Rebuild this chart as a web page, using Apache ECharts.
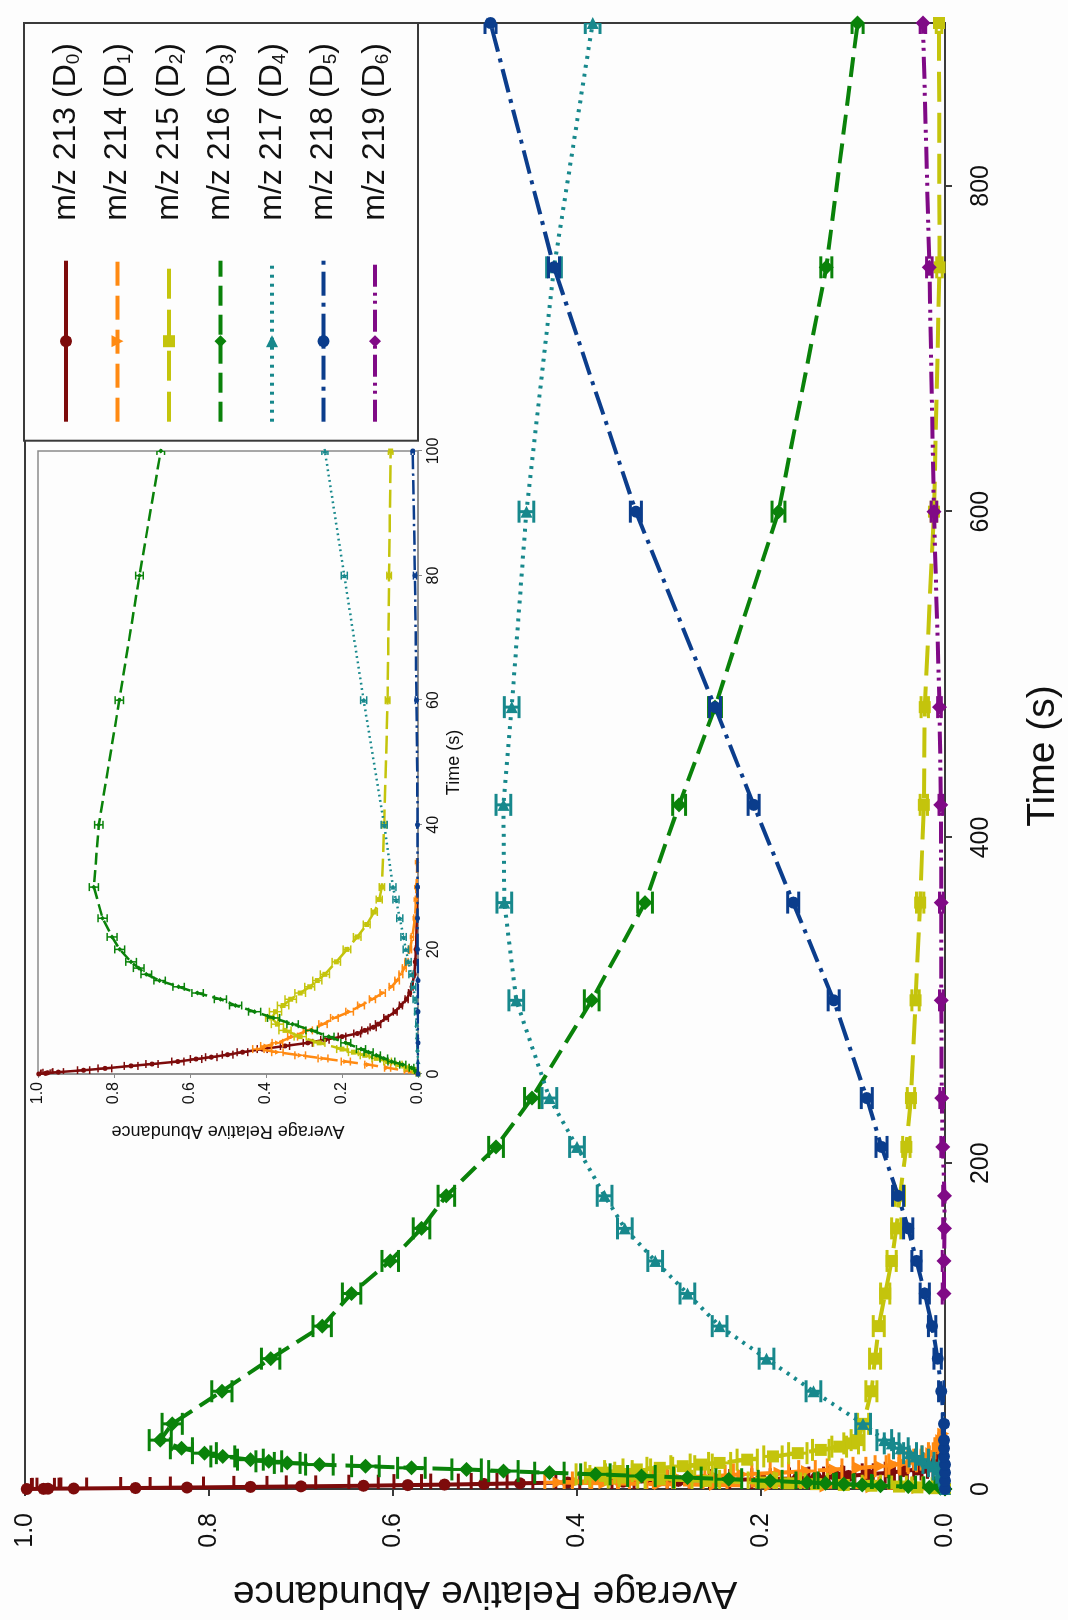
<!DOCTYPE html>
<html>
<head>
<meta charset="utf-8">
<script src="https://cdn.jsdelivr.net/npm/echarts@6/dist/echarts.min.js"></script>
<style>
  html, body { margin: 0; padding: 0; background: #fdfdfd; width: 1068px; height: 1620px; overflow: hidden; }
  /* the figure is laid out landscape and turned a quarter turn counter-clockwise onto the portrait page */
  #chart {
    position: absolute; left: 0; top: 0;
    width: 1620px; height: 1068px;
    transform-origin: 0 0;
    transform: translateY(1620px) rotate(-90deg);
    background: #fdfdfd;
  }
</style>
</head>
<body>
<div id="chart"></div>
<script>
// ---- data: time (s), average relative abundance, standard error ----
const tD0 = [0, 0.1, 0.2, 0.3, 0.6, 0.9, 1.3, 1.6, 2.0, 2.4, 2.7, 3.1, 3.5, 4.0, 4.5, 5.0, 5.5, 6.0, 6.5, 7.0, 7.5, 8.0, 9.0, 10, 11, 12, 13, 14, 16, 18, 20, 25, 30];
const vD0 = [0.998, 0.98, 0.975, 0.947, 0.88, 0.824, 0.755, 0.70, 0.632, 0.584, 0.544, 0.501, 0.462, 0.41, 0.35, 0.29, 0.245, 0.20, 0.16, 0.14, 0.118, 0.105, 0.084, 0.06, 0.045, 0.03, 0.022, 0.016, 0.01, 0.007, 0.005, 0.003, 0.002];
const eD0 = [0.005, 0.012, 0.012, 0.014, 0.016, 0.018, 0.018, 0.016, 0.016, 0.015, 0.015, 0.014, 0.014, 0.013, 0.012, 0.012, 0.011, 0.010, 0.009, 0.008, 0.008, 0.007, 0.006, 0.005, 0.004, 0.004, 0.003, 0.003, 0.002, 0.002, 0.002, 0.001, 0.001];

const tD1 = [0, 0.5, 1.0, 1.5, 2.0, 2.5, 3.0, 3.5, 4.0, 4.5, 5.0, 6.0, 7.0, 8.0, 9.0, 10, 11, 12, 13, 14, 15, 16, 17, 18, 20, 22, 25, 28, 30, 34];
const vD1 = [0.0, 0.03, 0.08, 0.13, 0.19, 0.25, 0.31, 0.37, 0.42, 0.40, 0.37, 0.33, 0.29, 0.25, 0.22, 0.18, 0.15, 0.12, 0.093, 0.07, 0.055, 0.045, 0.036, 0.03, 0.021, 0.015, 0.008, 0.005, 0.004, 0.002];
const eD1 = [0.002, 0.006, 0.008, 0.010, 0.012, 0.013, 0.014, 0.015, 0.015, 0.014, 0.014, 0.013, 0.012, 0.011, 0.010, 0.010, 0.009, 0.008, 0.007, 0.006, 0.006, 0.005, 0.005, 0.004, 0.004, 0.003, 0.003, 0.002, 0.002, 0.002];

const tD2 = [0, 0.5, 1, 1.5, 2, 2.5, 3, 3.5, 4, 5, 6, 7, 8, 9, 10, 11, 12, 13, 14, 15, 16, 18, 20, 22, 24, 26, 28, 30, 40, 60, 80, 100, 120, 140, 160, 180, 210, 240, 300, 360, 420, 480, 600, 750, 900];
const vD2 = [0, 0.01, 0.03, 0.05, 0.08, 0.11, 0.14, 0.17, 0.2, 0.26, 0.31, 0.35, 0.37, 0.385, 0.375, 0.355, 0.335, 0.31, 0.285, 0.265, 0.245, 0.215, 0.187, 0.16, 0.135, 0.115, 0.102, 0.095, 0.089, 0.080, 0.076, 0.072, 0.065, 0.058, 0.053, 0.049, 0.042, 0.037, 0.032, 0.027, 0.023, 0.022, 0.012, 0.006, 0.0065];
const eD2 = [0.002, 0.004, 0.006, 0.008, 0.010, 0.011, 0.012, 0.013, 0.014, 0.015, 0.016, 0.016, 0.016, 0.016, 0.016, 0.015, 0.015, 0.014, 0.013, 0.012, 0.012, 0.011, 0.010, 0.010, 0.009, 0.008, 0.008, 0.007, 0.006, 0.006, 0.006, 0.006, 0.005, 0.005, 0.005, 0.005, 0.004, 0.004, 0.004, 0.004, 0.004, 0.004, 0.003, 0.003, 0.003];

const tD3 = [0, 0.5, 1, 1.5, 2, 2.5, 3, 3.5, 4, 5, 6, 7, 8, 9, 10, 11, 12, 13, 14, 15, 16, 17, 18, 20, 22, 25, 30, 40, 60, 80, 100, 120, 140, 160, 180, 210, 240, 300, 360, 420, 480, 600, 750, 900];
const vD3 = [0, 0.005, 0.017, 0.04, 0.07, 0.09, 0.11, 0.13, 0.15, 0.19, 0.235, 0.28, 0.33, 0.38, 0.43, 0.48, 0.52, 0.58, 0.63, 0.68, 0.715, 0.735, 0.755, 0.785, 0.805, 0.83, 0.853, 0.84, 0.786, 0.733, 0.677, 0.645, 0.603, 0.569, 0.542, 0.488, 0.449, 0.384, 0.326, 0.289, 0.250, 0.181, 0.129, 0.095];
const eD3 = [0.002, 0.004, 0.006, 0.008, 0.009, 0.010, 0.011, 0.012, 0.012, 0.013, 0.014, 0.015, 0.015, 0.016, 0.016, 0.016, 0.016, 0.015, 0.015, 0.015, 0.014, 0.014, 0.014, 0.013, 0.013, 0.012, 0.012, 0.011, 0.011, 0.010, 0.010, 0.010, 0.009, 0.009, 0.009, 0.008, 0.008, 0.008, 0.008, 0.007, 0.007, 0.007, 0.006, 0.006];

const tD4 = [0, 2, 4, 6, 8, 10, 12, 14, 16, 18, 20, 22, 25, 28, 30, 40, 60, 80, 100, 120, 140, 160, 180, 210, 240, 300, 360, 420, 480, 600, 750, 900];
const vD4 = [0, 0, 0.001, 0.002, 0.003, 0.005, 0.008, 0.012, 0.018, 0.025, 0.032, 0.038, 0.048, 0.058, 0.066, 0.089, 0.143, 0.194, 0.245, 0.28, 0.315, 0.348, 0.37, 0.40, 0.43, 0.466, 0.479, 0.48, 0.471, 0.455, 0.425, 0.383];
const eD4 = [0.001, 0.001, 0.002, 0.002, 0.003, 0.004, 0.005, 0.006, 0.006, 0.007, 0.007, 0.007, 0.008, 0.008, 0.008, 0.008, 0.008, 0.008, 0.008, 0.008, 0.008, 0.008, 0.008, 0.008, 0.008, 0.008, 0.008, 0.008, 0.008, 0.008, 0.008, 0.008];

const tD5 = [0, 5, 10, 15, 20, 25, 30, 40, 60, 80, 100, 120, 140, 160, 180, 210, 240, 300, 360, 420, 480, 600, 750, 900];
const vD5 = [0, 0, 0, 0, 0.001, 0.001, 0.001, 0.001, 0.004, 0.008, 0.014, 0.022, 0.031, 0.040, 0.051, 0.069, 0.085, 0.121, 0.165, 0.208, 0.25, 0.336, 0.425, 0.494];
const eD5 = [0.001, 0.001, 0.001, 0.001, 0.001, 0.001, 0.001, 0.002, 0.003, 0.004, 0.004, 0.005, 0.005, 0.005, 0.006, 0.006, 0.006, 0.006, 0.006, 0.006, 0.006, 0.006, 0.006, 0.006];

const tD6 = [120, 140, 160, 180, 210, 240, 300, 360, 420, 480, 600, 750, 900];
const vD6 = [0.001, 0.001, 0.0005, 0.0005, 0.0025, 0.0036, 0.004, 0.004, 0.0045, 0.006, 0.012, 0.017, 0.024];
const eD6 = [0.002, 0.002, 0.002, 0.002, 0.002, 0.002, 0.002, 0.002, 0.002, 0.002, 0.003, 0.003, 0.003];

const seriesNames = ['m/z 213 (D0)', 'm/z 214 (D1)', 'm/z 215 (D2)', 'm/z 216 (D3)', 'm/z 217 (D4)', 'm/z 218 (D5)', 'm/z 219 (D6)'];

const timeTicks = [0, 200, 400, 600, 800];
const abundanceTicks = [0, 0.2, 0.4, 0.6, 0.8, 1.0];
const insetTimeTicks = [0, 20, 40, 60, 80, 100];

// ---- appearance of each isotopologue trace ----
const looks = [
  { color: '#7d0b0b', dash: 'solid',              symbol: 'circle',   rot: 0 },
  { color: '#ff8a12', dash: [24, 10],             symbol: 'triangle', rot: 180 },
  { color: '#c4c40c', dash: [30, 11],             symbol: 'rect',     rot: 0 },
  { color: '#0a820a', dash: [20, 9],              symbol: 'diamond',  rot: 0 },
  { color: '#17888c', dash: [3, 6],               symbol: 'triangle', rot: -90 },
  { color: '#0b3d8c', dash: [24, 7, 4, 7],        symbol: 'circle',   rot: 0 },
  { color: '#800a86', dash: [22, 6, 3, 5, 3, 6],  symbol: 'diamond',  rot: 0 }
];
const traces = [
  [tD0, vD0, eD0], [tD1, vD1, eD1], [tD2, vD2, eD2], [tD3, vD3, eD3],
  [tD4, vD4, eD4], [tD5, vD5, eD5], [tD6, vD6, eD6]
];

const FONT = '"Liberation Sans", Arial, Helvetica, sans-serif';

function errorBars(axis, rows, color, capHalf, width, z) {
  return {
    type: 'custom', xAxisIndex: axis, yAxisIndex: axis, data: rows, clip: true,
    silent: true, z: z, encode: { x: 0, y: 1 },
    renderItem: function (params, api) {
      const t = api.value(0), v = api.value(1), e = api.value(2);
      const lo = api.coord([t, v - e]);
      const hi = api.coord([t, v + e]);
      const st = { stroke: color, lineWidth: width };
      return {
        type: 'group',
        children: [
          { type: 'line', shape: { x1: lo[0], y1: lo[1], x2: hi[0], y2: hi[1] }, style: st },
          { type: 'line', shape: { x1: lo[0] - capHalf, y1: lo[1], x2: lo[0] + capHalf, y2: lo[1] }, style: st },
          { type: 'line', shape: { x1: hi[0] - capHalf, y1: hi[1], x2: hi[0] + capHalf, y2: hi[1] }, style: st }
        ]
      };
    }
  };
}

const series = [];
traces.forEach(function (tr, i) {
  const [t, v, e] = tr;
  const lk = looks[i];
  const pts = t.map((x, k) => [x, v[k]]);
  const rows = t.map((x, k) => [x, v[k], e[k]]);
  // main panel
  series.push(errorBars(0, rows, lk.color, 11, 3, 3 + i * 2));
  series.push({
    name: seriesNames[i], type: 'line', xAxisIndex: 0, yAxisIndex: 0, data: pts,
    symbol: lk.symbol, symbolRotate: lk.rot, symbolSize: lk.symbol === 'diamond' ? 15 : 12,
    showSymbol: true, z: 4 + i * 2,
    lineStyle: { color: lk.color, width: 4, type: lk.dash },
    itemStyle: { color: lk.color, borderWidth: 0 }
  });
  // inset panel (first 100 s)
  series.push(errorBars(1, rows, lk.color, 4, 1.5, 30 + i * 2));
  series.push({
    name: seriesNames[i], type: 'line', xAxisIndex: 1, yAxisIndex: 1, data: pts, clip: true,
    symbol: lk.symbol, symbolRotate: lk.rot, symbolSize: 5,
    showSymbol: true, z: 31 + i * 2,
    lineStyle: { color: lk.color, width: 2.5, type: Array.isArray(lk.dash) ? lk.dash.map(d => d * 0.6) : lk.dash },
    itemStyle: { color: lk.color, borderWidth: 0 }
  });
});

const option = {
  animation: false,
  backgroundColor: '#fdfdfd',
  grid: [
    { left: 127, right: 23, top: 25, bottom: 123, show: true, borderColor: '#3a3a3a', borderWidth: 2, backgroundColor: '#fdfdfd' },
    { left: 546, right: 451, top: 38, bottom: 650, show: true, borderColor: '#8a8a8a', borderWidth: 1.5, backgroundColor: '#fdfdfd', z: 20 }
  ],
  xAxis: [
    {
      gridIndex: 0, type: 'value', min: 0, max: 900, interval: 200,
      name: 'Time (s)', nameLocation: 'middle', nameGap: 79,
      nameTextStyle: { fontSize: 39, fontFamily: FONT, color: '#111' },
      axisLine: { show: true, lineStyle: { color: '#3a3a3a', width: 2 } },
      axisTick: { show: true, inside: false, length: 7, customValues: timeTicks, lineStyle: { color: '#3a3a3a', width: 2 } },
      axisLabel: { customValues: timeTicks, fontSize: 25, fontFamily: FONT, color: '#111', margin: 24 },
      splitLine: { show: false }
    },
    {
      gridIndex: 1, type: 'value', min: 0, max: 100, interval: 20, z: 20,
      name: 'Time (s)', nameLocation: 'middle', nameGap: 27,
      nameTextStyle: { fontSize: 18, fontFamily: FONT, color: '#111' },
      axisLine: { show: true, lineStyle: { color: '#8a8a8a', width: 1.5 } },
      axisTick: { show: true, length: 4, customValues: insetTimeTicks, lineStyle: { color: '#8a8a8a' } },
      axisLabel: { customValues: insetTimeTicks, fontSize: 16, fontFamily: FONT, color: '#111', margin: 8 },
      splitLine: { show: false }
    }
  ],
  yAxis: [
    {
      gridIndex: 0, type: 'value', min: 0, max: 1, interval: 0.2,
      name: 'Average Relative Abundance', nameLocation: 'middle', nameGap: 84,
      nameTextStyle: { fontSize: 39, fontFamily: FONT, color: '#111' },
      axisLine: { show: true, lineStyle: { color: '#3a3a3a', width: 2 } },
      axisTick: { show: true, length: 7, customValues: abundanceTicks, lineStyle: { color: '#3a3a3a', width: 2 } },
      axisLabel: { customValues: abundanceTicks, fontSize: 25, fontFamily: FONT, color: '#111', margin: 24, formatter: v => v.toFixed(1) },
      splitLine: { show: false }
    },
    {
      gridIndex: 1, type: 'value', min: 0, max: 1, interval: 0.2, z: 20,
      name: 'Average Relative Abundance', nameLocation: 'middle', nameGap: 48,
      nameTextStyle: { fontSize: 18, fontFamily: FONT, color: '#111' },
      axisLine: { show: true, lineStyle: { color: '#8a8a8a', width: 1.5 } },
      axisTick: { show: true, length: 4, customValues: abundanceTicks, lineStyle: { color: '#8a8a8a' } },
      axisLabel: { customValues: abundanceTicks, fontSize: 16, fontFamily: FONT, color: '#111', margin: 8, formatter: v => v.toFixed(1) },
      splitLine: { show: false }
    }
  ],
  legend: {
    data: seriesNames, orient: 'vertical', right: 23, top: 24,
    padding: [26, 20, 26, 17], itemWidth: 161, itemHeight: 15, itemGap: 18.5,
    borderColor: '#3a3a3a', borderWidth: 2, backgroundColor: '#fdfdfd',
    selectedMode: false,
    lineStyle: { width: 4 },
    formatter: function (name) {
      const m = name.match(/^(.*\(D)(\d)\)$/);
      return '{g|}{n|' + m[1] + '}{s|' + m[2] + '}{n|)}';
    },
    textStyle: {
      fontFamily: FONT, color: '#111', fontSize: 32,
      rich: {
        g: { width: 35 },
        n: { fontSize: 32, fontFamily: FONT, lineHeight: 34, color: '#111' },
        s: { fontSize: 19, fontFamily: FONT, lineHeight: 34, verticalAlign: 'bottom', color: '#111' }
      }
    }
  },
  series: series
};

const chart = echarts.init(document.getElementById('chart'), null, { renderer: 'canvas' });
chart.setOption(option);
</script>
</body>
</html>
